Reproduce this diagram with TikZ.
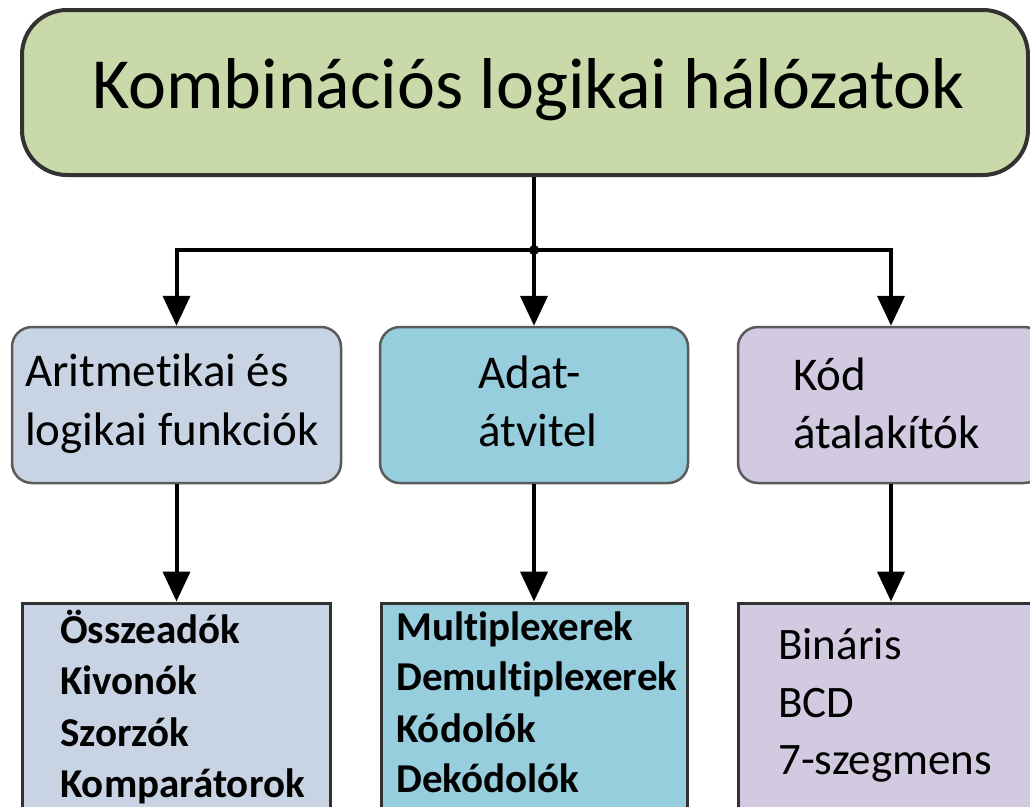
\documentclass[tikz,border=0pt]{standalone}
\usepackage{fontspec}
\setmainfont{Carlito}[Ligatures={NoCommon}, Contextuals={NoAlternate}, RawFeature={-clig;-dlig}]
\usetikzlibrary{arrows.meta}
\definecolor{topgreen}{RGB}{201,217,170}
\definecolor{lblue}{RGB}{200,212,228}
\definecolor{lteal}{RGB}{150,206,221}
\definecolor{lpurple}{RGB}{210,202,224}
\definecolor{topborder}{RGB}{50,50,50}
\definecolor{midborder}{RGB}{90,90,90}
\newcommand{\nl}{\kern0pt }
\begin{document}
\begin{tikzpicture}[x=1pt,y=-1pt,
  topbox/.style={draw=topborder, line width=4pt, rounded corners=45pt, fill=topgreen, inner sep=0pt},
  midbox/.style={draw=midborder, line width=2.5pt, rounded corners=20pt, inner sep=0pt, minimum height=156pt},
  botbox/.style={draw=topborder, line width=3pt, inner sep=0pt, minimum height=247pt},
  conn/.style={line width=4pt, black},
  arr/.style={conn, -{Triangle[width=27pt,length=30pt]}},
  titletxt/.style={anchor=base west, inner sep=0pt, font=\fontsize{72}{86}\selectfont, text=black},
  midtxt/.style={anchor=base west, inner sep=0pt, font=\fontsize{47}{59}\selectfont, text=black},
  bottxtb/.style={anchor=base west, inner sep=0pt, font=\fontsize{41}{51}\selectfont\bfseries, text=black},
  bottxt/.style={anchor=base west, inner sep=0pt, font=\fontsize{45}{57}\selectfont, text=black}
]
\useasboundingbox (0,0) rectangle (1030,806);
\clip (0,0) rectangle (1030,806);
\fill[white] (0,0) rectangle (1030,806);

% top box
\node[topbox, minimum width=1006pt, minimum height=165pt] (top) at (525,92.5) {};
\node[titletxt] (title) at (92,108) {Kombinációs logikai hálózatok};

% middle boxes
\node[midbox, fill=lblue, minimum width=329pt] (ml) at (176.5,405) {};
\node[midbox, fill=lteal, minimum width=308pt] (mm) at (534,405) {};
\node[midbox, fill=lpurple, minimum width=306pt] (mr) at (891,405) {};

\node[midtxt] (ml1) at (25,386) {Arit\nl metikai és};
\node[midtxt] (ml2) at (25,445) {logikai funkciók};
\node[midtxt] (mm1) at (478,388) {Adat-};
\node[midtxt] (mm2) at (478,446) {átvitel};
\node[midtxt] (mr1) at (793,390) {Kód};
\node[midtxt] (mr2) at (793,448) {átalakítók};

% bottom boxes
\node[botbox, fill=lblue, minimum width=308pt] (bl) at (176.5,726.5) {};
\node[botbox, fill=lteal, minimum width=306pt] (bm) at (534,726.5) {};
\node[botbox, fill=lpurple, minimum width=306pt] (br) at (891,726.5) {};

\node[bottxtb] (bl1) at (60,643) {Összeadók};
\node[bottxtb] (bl2) at (60,694) {Kivonók};
\node[bottxtb] (bl3) at (60,746) {Szorzók};
\node[bottxtb] (bl4) at (60,797) {Komparátorok};

\node[bottxtb] (bm1) at (396,640) {Mult\nl iplexerek};
\node[bottxtb] (bm2) at (396,690) {Demult\nl iplexerek};
\node[bottxtb] (bm3) at (396,742) {Kódolók};
\node[bottxtb] (bm4) at (396,792) {Dekódolók};

\node[bottxt] (br1) at (778,659) {Bináris};
\node[bottxt] (br2) at (778,717) {BCD};
\node[bottxt] (br3) at (778,774) {7-szegmens};

% connectors
\coordinate (j) at (534,250);
\draw[conn] (j |- top.south) -- (j);
\draw[arr] (j) -| (ml.north);
\draw[arr] (j) -| (mr.north);
\draw[arr] (j) -- (mm.north);
\fill (j) circle (5pt);

\draw[arr] (ml.south) -- (ml.south |- bl.north);
\draw[arr] (mm.south) -- (bm.north);
\draw[arr] (mr.south) -- (br.north);
\end{tikzpicture}
\end{document}
